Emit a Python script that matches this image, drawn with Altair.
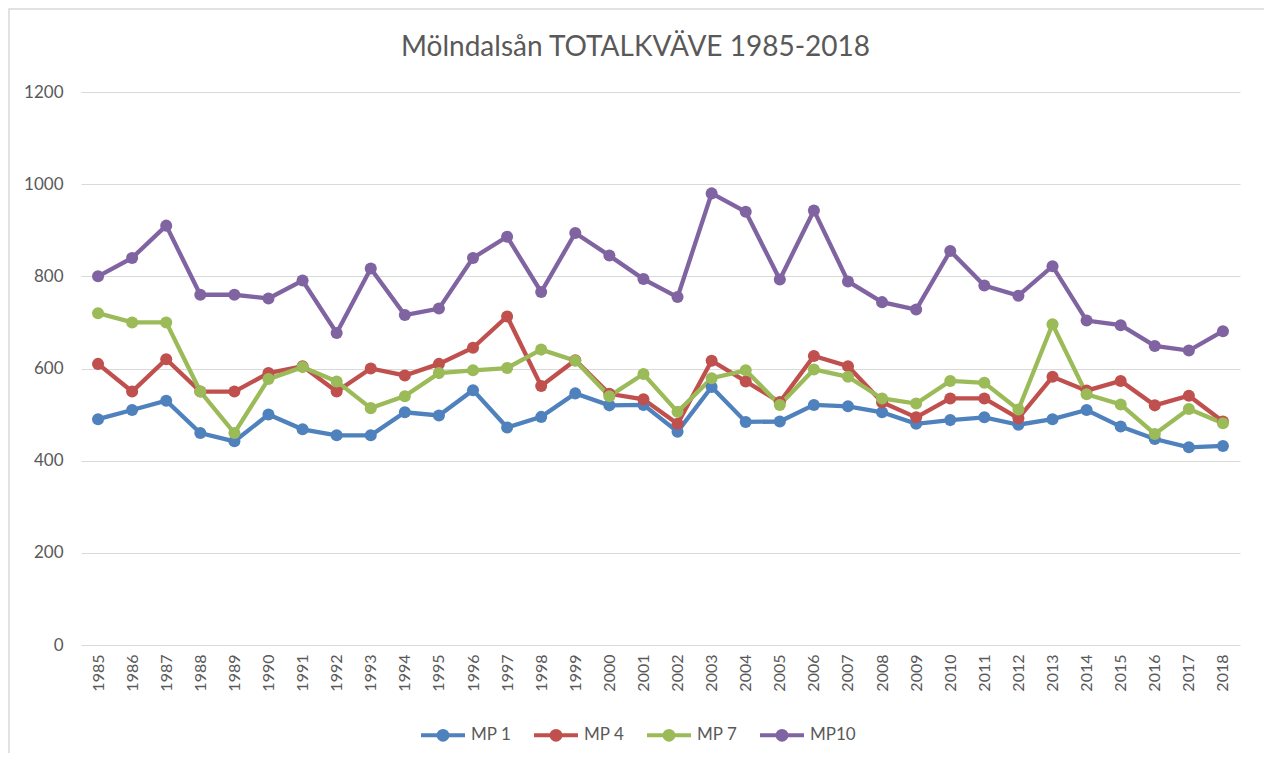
import altair as alt
import pandas as pd

years = list(range(1985, 2019))
series_names = ["MP 1", "MP 4", "MP 7", "MP10"]
colors = ["#4F81BD", "#C0504D", "#9BBB59", "#8064A2"]

mp1 = [490, 510, 530, 460, 442, 500, 468, 455, 455, 505, 498, 553, 472, 495, 546, 520, 521,
       463, 560, 484, 485, 521, 518, 505, 480, 488, 494, 478, 490, 510, 474, 447, 429, 432]
mp4 = [610, 550, 620, 550, 550, 590, 605, 550, 600, 585, 610, 645, 713, 562, 618, 545, 533,
       480, 617, 572, 527, 627, 605, 527, 494, 535, 535, 492, 582, 552, 573, 520, 541, 485]
mp7 = [720, 700, 700, 550, 460, 577, 603, 572, 514, 540, 590, 596, 601, 641, 617, 540, 588,
       506, 579, 596, 521, 598, 582, 535, 524, 573, 569, 511, 696, 544, 522, 458, 512, 481]
mp10 = [800, 840, 910, 760, 760, 752, 791, 677, 817, 716, 730, 840, 886, 766, 894, 845, 794,
        755, 980, 940, 793, 943, 789, 744, 728, 855, 780, 758, 822, 704, 694, 649, 639, 681]

rows = []
for name, vals in zip(series_names, [mp1, mp4, mp7, mp10]):
    for yr, v in zip(years, vals):
        rows.append({"year": str(yr), "serie": name, "value": v})
df = pd.DataFrame(rows)

text_color = "#595959"
font = "Lato"

color = alt.Color(
    "serie:N",
    scale=alt.Scale(domain=series_names, range=colors),
    legend=alt.Legend(
        title=None,
        orient="none",
        legendX=338,
        legendY=619,
        direction="horizontal",
        symbolType="M-1,0L1,0M0.2,0A0.2,0.2,0,1,1,-0.2,0A0.2,0.2,0,1,1,0.2,0Z",
        symbolSize=1936,
        symbolStrokeWidth=4,
        labelFont=font,
        labelFontSize=17,
        labelColor=text_color,
        labelOffset=4,
        columnPadding=14,
    ),
)

x = alt.X(
    "year:O",
    sort=[str(y) for y in years],
    scale=alt.Scale(padding=0.5),
    axis=alt.Axis(
        title=None,
        labelAngle=-90,
        labelFont=font,
        labelFontSize=16,
        labelColor=text_color,
        labelPadding=9,
        domain=False,
        ticks=False,
        grid=False,
    ),
)
y = alt.Y(
    "value:Q",
    scale=alt.Scale(domain=[0, 1200]),
    axis=alt.Axis(
        title=None,
        values=[0, 200, 400, 600, 800, 1000, 1200],
        format="d",
        labelFont=font,
        labelFontSize=17,
        labelColor=text_color,
        labelPadding=18,
        domain=False,
        ticks=False,
        grid=True,
        gridColor="#d9d9d9",
        gridWidth=1.2,
    ),
)

base = alt.Chart(df)
lines = base.mark_line(strokeWidth=4.3).encode(x=x, y=y, color=color)
points = base.mark_point(filled=True, size=145, opacity=1).encode(x=x, y=y, color=color)

frame = alt.Chart(alt.Data(values=[{"a": 1}])).mark_rect(
    fillOpacity=0, stroke="#d9d9d9", strokeWidth=1.5
).encode(
    x=alt.value(-72), x2=alt.value(1184), y=alt.value(-83), y2=alt.value(700)
)

chart = alt.layer(frame, lines, points).properties(
    width=1159,
    height=553,
    autosize="none",
    padding={"left": 73, "top": 84, "right": 24, "bottom": 108},
    title=alt.Title(
        "Mölndalsån TOTALKVÄVE 1985-2018",
        font=font,
        fontSize=28,
        fontWeight="normal",
        color=text_color,
        anchor="middle",
        frame="group",
        baseline="alphabetic",
        dx=-25,
        offset=-76,
    ),
).configure_view(stroke=None)

chart.save("out.html", embed_options={"renderer": "svg", "actions": False})
